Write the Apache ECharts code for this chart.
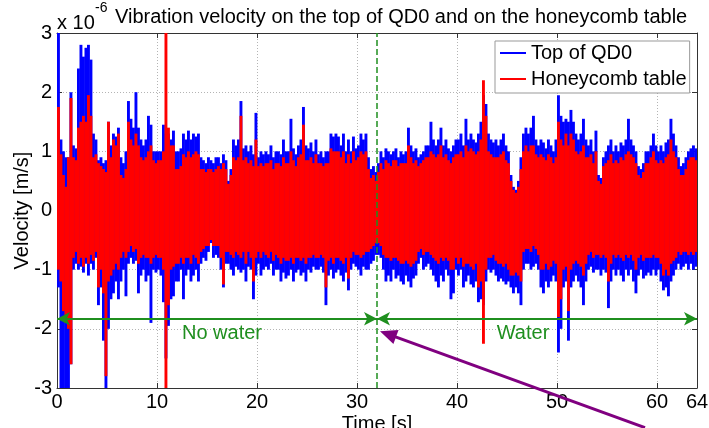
<!DOCTYPE html>
<html><head><meta charset="utf-8">
<script src="https://cdn.jsdelivr.net/npm/echarts@6/dist/echarts.min.js"></script>
<style>html,body{margin:0;padding:0;background:#fff}#c{width:709px;height:428px}</style>
</head><body><div id="c"></div>
<script>
// sample spacing (s) of the envelope readings; each sample gives a local max and min
const STEP = 0.25;
const X_TICKS = [0, 10, 20, 30, 40, 50, 60, 64];
const Y_TICKS = [-3, -2, -1, 0, 1, 2, 3];
const SERIES_NAMES = ['Top of QD0', 'Honeycomb table'];

// Top of QD0 (blue), x1e-6 m/s
const blueMax = [
3.2,1.2,1.0,0.9, 0.9,2.0,1.1,1.05, 2.4,2.8,2.6,2.75, 2.8,2.55,1.3,1.2,
0.85,0.9,0.8,0.85, 1.5,1.1,1.3,1.25, 1.4,0.9,0.8,1.0, 1.85,1.55,1.4,2.0,
1.4,1.2,1.1,1.2, 1.6,1.45,1.0,1.0, 1.0,1.0,1.45,1.3, 1.3,1.2,1.35,1.0,
1.0,1.05,1.3,1.2, 1.35,1.2,1.3,1.25, 1.3,0.9,0.85,0.8, 0.9,0.85,0.8,0.9,
0.9,0.8,0.95,0.85, 0.5,0.7,1.2,1.1, 1.2,1.85,1.05,1.1, 1.0,1.1,0.95,1.65,
0.9,1.0,0.95,1.0, 0.95,1.1,0.9,1.0, 1.0,0.95,1.2,1.0, 1.0,1.55,1.05,0.95,
1.1,1.2,1.75,1.1, 1.05,1.15,1.0,1.2, 0.95,1.0,0.9,1.0, 1.0,1.3,1.25,1.3,
1.25,1.1,1.3,1.0, 1.2,1.0,1.25,1.05, 1.1,1.3,1.2,1.3, 0.9,0.7,0.75,0.65,
0.8,1.0,0.9,1.05, 1.0,0.95,1.0,1.05, 0.9,1.0,0.95,1.0, 1.4,1.1,1.0,1.05,
0.9,0.95,1.0,1.1, 1.1,1.5,1.2,1.1, 1.2,1.4,1.1,1.2, 1.05,1.0,1.1,1.2,
1.2,1.3,1.1,1.55, 1.2,1.3,1.2,1.15, 1.3,1.5,1.95,1.8, 1.3,1.2,1.15,1.2,
1.1,1.2,1.3,1.1, 1.0,0.6,0.4,0.35, 0.5,0.9,1.3,1.4, 1.3,1.4,1.6,1.2,
1.1,1.2,1.15,1.05, 1.2,1.1,1.0,1.2, 1.95,1.6,1.5,1.55, 1.5,1.7,1.5,1.3,
1.2,1.3,1.55,1.2, 1.1,1.2,1.0,1.35, 0.6,0.55,0.9,1.0, 1.1,1.2,1.0,1.1,
1.0,1.15,1.1,1.2, 1.55,1.2,1.1,1.0, 0.75,0.7,0.8,1.0, 1.0,1.1,1.3,1.1,
1.0,1.1,1.0,1.15, 1.2,1.55,1.3,1.1, 0.9,0.75,0.8,0.9, 1.0,1.05,1.1,1.05
];
const blueMin = [
-1.3,-3.3,-3.3,-3.2, -3.3,-2.6,-1.0,-0.9, -1.0,-0.95,-1.05,-0.9, -1.1,-0.9,-1.0,-0.8,
-1.6,-1.3,-2.2,-3.3, -2.0,-1.5,-1.4,-1.2, -1.5,-1.2,-1.0,-1.45, -0.9,-0.8,-0.9,-0.85,
-1.4,-1.1,-1.0,-1.2, -1.1,-1.9,-1.0,-1.05, -1.0,-1.1,-1.55,-2.5, -1.95,-1.5,-1.45,-1.2,
-1.2,-1.0,-1.5,-1.1, -1.0,-1.2,-1.1,-1.0, -1.2,-0.9,-0.8,-0.85, -0.7,-0.55,-0.8,-0.75,
-0.8,-1.0,-1.3,-0.9, -0.9,-1.0,-1.1,-0.95, -1.0,-1.05,-1.0,-1.2, -0.95,-1.0,-1.5,-1.1,
-0.9,-1.1,-1.0,-0.95, -1.0,-0.9,-1.1,-1.0, -1.0,-1.2,-1.05,-1.15, -1.1,-1.0,-1.2,-1.05,
-1.0,-1.1,-1.05,-1.2, -1.0,-1.05,-0.95,-1.0, -1.0,-0.95,-1.05,-1.6, -1.1,-1.0,-1.15,-1.05,
-1.0,-1.1,-1.2,-1.05, -1.35,-1.0,-0.9,-0.95, -1.0,-1.1,-0.95,-1.0, -1.0,-0.9,-0.85,-0.75,
-0.75,-0.8,-1.0,-1.2, -1.1,-1.2,-1.0,-1.15, -1.1,-1.2,-1.25,-1.1, -1.2,-1.3,-1.15,-1.1,
-0.9,-0.8,-1.0,-0.95, -0.9,-1.0,-1.1,-1.2, -1.3,-1.1,-1.2,-1.0, -1.1,-1.5,-1.4,-1.0,
-1.1,-1.0,-1.3,-1.2, -1.1,-1.25,-1.3,-1.2, -1.55,-1.5,-1.6,-1.2, -1.0,-1.05,-1.0,-1.1,
-1.2,-1.15,-1.2,-1.25, -1.2,-1.3,-1.4,-1.3, -1.4,-1.6,-1.0,-0.9, -0.9,-1.0,-0.95,-0.9,
-1.0,-1.3,-1.4,-1.2, -1.3,-1.2,-1.1,-1.2, -2.4,-2.0,-1.3,-1.2, -2.2,-1.3,-1.2,-1.1,
-1.2,-1.3,-1.6,-1.2, -1.0,-0.95,-1.05,-1.0, -1.0,-1.1,-1.0,-1.05, -1.65,-1.2,-1.0,-1.1,
-1.0,-1.1,-1.2,-1.0, -1.1,-1.0,-1.2,-1.4, -1.1,-1.0,-1.15,-1.1, -1.05,-1.1,-1.0,-1.1,
-1.0,-1.2,-1.35,-1.3, -1.45,-1.2,-1.1,-1.0, -0.9,-1.0,-0.95,-0.9, -1.0,-0.9,-1.0,-0.95
];
// Honeycomb table (red), x1e-6 m/s
const redMax = [
1.75,0.95,0.6,0.4, 0.9,1.9,0.9,0.85, 1.4,1.5,1.6,1.5, 1.95,1.6,0.9,0.95,
0.8,0.75,0.7,0.65, 1.5,0.9,1.2,1.1, 1.3,0.6,0.55,0.7, 1.5,1.2,1.1,1.3,
1.1,0.9,0.85,0.9, 1.0,1.1,0.85,0.8, 0.85,0.85,1.0,3.3, 1.4,1.1,1.1,0.7,
0.7,0.75,0.95,0.9, 1.0,0.9,0.95,1.0, 0.95,0.7,0.7,0.65, 0.7,0.7,0.65,0.7,
0.75,0.7,0.8,0.7, 0.45,0.6,0.9,0.85, 0.9,1.6,0.85,0.9, 0.8,0.85,0.75,1.2,
0.75,0.8,0.75,0.8, 0.8,0.85,0.7,0.8, 0.8,0.75,0.9,0.8, 0.8,1.0,0.85,0.75,
0.9,0.95,1.45,0.85, 0.85,0.9,0.8,0.95, 0.8,0.8,0.75,0.8, 0.8,1.05,1.0,1.0,
1.0,0.9,1.0,0.8, 0.95,0.8,1.0,0.85, 0.9,1.0,0.95,1.0, 0.7,0.55,0.6,0.5,
0.65,0.8,0.7,0.85, 0.8,0.75,0.85,0.85, 0.75,0.8,0.8,0.8, 1.1,0.9,0.8,0.85,
0.75,0.8,0.85,0.9, 0.9,1.0,0.95,0.9, 0.95,1.1,0.9,0.95, 0.85,0.8,0.9,0.95,
0.95,1.0,0.9,1.1, 1.0,1.05,1.0,0.95, 1.0,1.2,2.2,1.6, 1.0,0.95,0.9,0.9,
0.9,0.95,1.0,0.85, 0.8,0.5,0.35,0.3, 0.4,0.7,1.0,1.1, 1.0,1.1,1.1,0.95,
0.9,0.95,0.9,0.85, 0.95,0.9,0.8,0.9, 1.5,1.2,1.1,1.3, 1.1,1.3,1.2,1.0,
0.95,1.0,1.1,0.9, 0.9,0.95,0.8,1.0, 0.5,0.45,0.75,0.8, 0.85,0.95,0.8,0.85,
0.8,0.9,0.85,0.95, 1.0,0.95,0.9,0.8, 0.6,0.55,0.65,0.8, 0.8,0.9,1.0,0.85,
0.8,0.85,0.8,0.9, 0.95,1.2,1.0,0.9, 0.7,0.6,0.6,0.7, 0.85,0.9,0.9,0.85
];
const redMin = [
-1.0,-1.2,-1.7,-1.9, -2.0,-2.6,-0.8,-0.7, -0.9,-0.8,-0.95,-0.8, -0.9,-0.75,-0.85,-0.7,
-1.3,-1.0,-1.4,-2.8, -1.2,-1.1,-1.0,-0.9, -1.0,-0.8,-0.7,-0.8, -0.7,-0.6,-0.7,-0.65,
-0.9,-0.8,-0.75,-0.8, -0.8,-0.9,-0.8,-0.75, -0.8,-0.8,-1.0,-3.3, -1.6,-1.0,-0.95,-0.9,
-0.9,-0.8,-0.9,-0.8, -0.8,-0.9,-0.75,-0.8, -0.9,-0.7,-0.65,-0.6, -0.6,-0.5,-0.6,-0.6,
-0.6,-0.8,-1.25,-0.7, -0.7,-0.75,-0.8,-0.7, -0.75,-0.8,-0.7,-0.9, -0.7,-0.8,-1.2,-0.8,
-0.7,-0.8,-0.7,-0.75, -0.8,-0.7,-0.85,-0.75, -0.8,-0.9,-0.8,-0.85, -0.85,-0.8,-0.9,-0.8,
-0.8,-0.85,-0.8,-0.9, -0.8,-0.8,-0.75,-0.8, -0.8,-0.75,-0.8,-1.3, -0.85,-0.8,-0.9,-0.8,
-0.8,-0.85,-0.9,-0.8, -1.15,-0.8,-0.7,-0.75, -0.75,-0.8,-0.75,-0.7, -0.7,-0.65,-0.6,-0.55,
-0.55,-0.6,-0.75,-0.8, -0.8,-0.85,-0.8,-0.8, -0.85,-0.9,-0.9,-0.85, -0.9,-0.95,-0.9,-0.85,
-0.7,-0.65,-0.75,-0.7, -0.7,-0.75,-0.8,-0.85, -0.9,-0.8,-0.85,-0.8, -0.85,-1.0,-1.0,-0.8,
-0.9,-0.8,-0.95,-0.9, -0.9,-0.95,-1.0,-0.9, -1.3,-1.2,-2.25,-1.0, -0.8,-0.8,-0.75,-0.85,
-0.9,-0.9,-0.95,-0.9, -1.0,-1.1,-1.1,-1.05, -1.1,-1.2,-0.7,-0.65, -0.65,-0.7,-0.6,-0.65,
-0.75,-1.0,-1.0,-0.9, -1.0,-0.95,-0.85,-0.9, -1.8,-1.5,-1.0,-0.95, -1.7,-1.0,-0.9,-0.85,
-0.9,-0.95,-1.1,-0.9, -0.75,-0.7,-0.8,-0.75, -0.75,-0.8,-0.75,-0.8, -1.2,-0.9,-0.75,-0.8,
-0.75,-0.8,-0.85,-0.75, -0.8,-0.75,-0.85,-1.0, -0.8,-0.75,-0.85,-0.8, -0.8,-0.8,-0.75,-0.8,
-0.8,-0.9,-1.1,-1.0, -1.1,-0.9,-0.85,-0.8, -0.7,-0.75,-0.7,-0.7, -0.75,-0.7,-0.75,-0.7
];

// annotations
const SWITCH_TIME = 32;
const REGIONS = [
  { label: 'No water', from: 0, to: 32, labelAt: [16.5, -2.08] },
  { label: 'Water', from: 32, to: 64, labelAt: [46.6, -2.08] }
];
const ARROW_LEVEL = -1.83;
const POINTER = { tip: [32.3, -2.04], tail: [58.8, -3.67] };

const FONT = 'Liberation Sans, Arial, Helvetica, sans-serif';
const GREEN = '#1f8f1f';
const BLUE = '#0000ff', RED = '#ff0000';

function bands(hi, lo) { return hi.map((h, i) => [i * STEP, h, lo[i]]); }

function makeRender(color) {
  return function (params, api) {
    const t = api.value(0);
    const top = api.coord([t, api.value(1)]);
    const bot = api.coord([t, api.value(2)]);
    const xr = api.coord([t + STEP, 0])[0];
    const cs = params.coordSys;
    const rect = echarts.graphic.clipRectByRect(
      { x: top[0], y: top[1], width: xr - top[0] + 0.4, height: bot[1] - top[1] },
      { x: cs.x, y: cs.y, width: cs.width, height: cs.height });
    return rect ? { type: 'rect', shape: rect, style: { fill: color } } : null;
  };
}

const chart = echarts.init(document.getElementById('c'), null, { renderer: 'canvas' });

const arrowLines = REGIONS.map(r => [
  { coord: [r.from, ARROW_LEVEL], symbol: 'arrow', symbolSize: [10, 13] },
  { coord: [r.to, ARROW_LEVEL], symbol: 'arrow', symbolSize: [10, 13] }
]);

const axisCommon = {
  type: 'value',
  axisLine: { show: true, onZero: false, lineStyle: { color: '#333', width: 1 } },
  axisTick: { show: true, inside: true, length: 5, lineStyle: { color: '#333' } },
  splitLine: { show: true, lineStyle: { color: '#b4b4b4', type: [1, 2], width: 1 } },
  axisLabel: { show: true, color: '#000', fontSize: 20, fontFamily: FONT }
};

chart.setOption({
  animation: false,
  backgroundColor: '#fff',
  textStyle: { fontFamily: FONT },
  grid: { left: 57, right: 12, top: 33, bottom: 40, containLabel: false, outerBoundsMode: 'none' },
  legend: {
    data: SERIES_NAMES.map(n => ({ name: n, icon: 'rect' })),
    orient: 'vertical', left: 495, top: 41,
    padding: [2, 3, 4, 5], itemGap: 6, itemWidth: 26, itemHeight: 2,
    backgroundColor: '#fff', borderColor: '#999', borderWidth: 1,
    textStyle: { fontSize: 20, color: '#000', fontFamily: FONT, lineHeight: 20 },
    selectedMode: false
  },
  xAxis: [
    Object.assign({}, axisCommon, {
      min: X_TICKS[0], max: X_TICKS[X_TICKS.length - 1], interval: 10,
      position: 'bottom',
      axisLabel: Object.assign({}, axisCommon.axisLabel, { margin: 4 }),
      name: 'Time [s]', nameLocation: 'middle', nameGap: 26, nameMoveOverlap: false,
      nameTextStyle: { fontSize: 20, color: '#000', fontFamily: FONT }
    }),
    Object.assign({}, axisCommon, {
      min: X_TICKS[0], max: X_TICKS[X_TICKS.length - 1], interval: 10,
      position: 'top', axisLabel: { show: false }, splitLine: { show: false }
    })
  ],
  yAxis: [
    Object.assign({}, axisCommon, {
      min: Y_TICKS[0], max: Y_TICKS[Y_TICKS.length - 1], interval: 1,
      position: 'left',
      axisLabel: Object.assign({}, axisCommon.axisLabel, { margin: 5 }),
      name: 'Velocity [m/s]', nameLocation: 'middle', nameGap: 25, nameMoveOverlap: false,
      nameTextStyle: { fontSize: 20, color: '#000', fontFamily: FONT }
    }),
    Object.assign({}, axisCommon, {
      min: Y_TICKS[0], max: Y_TICKS[Y_TICKS.length - 1], interval: 1,
      position: 'right', axisLabel: { show: false }, splitLine: { show: false }
    })
  ],
  series: [
    {
      name: SERIES_NAMES[0], type: 'custom', data: bands(blueMax, blueMin),
      encode: { x: 0, y: [1, 2] }, renderItem: makeRender(BLUE),
      itemStyle: { color: BLUE }, z: 2, silent: true
    },
    {
      name: SERIES_NAMES[1], type: 'custom', data: bands(redMax, redMin),
      encode: { x: 0, y: [1, 2] }, renderItem: makeRender(RED),
      itemStyle: { color: RED }, z: 3, silent: true
    },
    {
      name: 'annotations', type: 'line', data: [], z: 5, silent: true,
      markLine: {
        silent: true, animation: false, symbol: 'none',
        label: { show: false },
        lineStyle: { color: GREEN, width: 2, type: 'solid' },
        data: [
          [
            { coord: [SWITCH_TIME, Y_TICKS[0]], symbol: 'none', lineStyle: { type: [6, 3], width: 1.5, color: GREEN } },
            { coord: [SWITCH_TIME, Y_TICKS[Y_TICKS.length - 1]], symbol: 'none' }
          ]
        ].concat(arrowLines)
      }
    }
  ]
});

function px(v) { return chart.convertToPixel({ xAxisIndex: 0, yAxisIndex: 0 }, v); }

const graphics = [];
graphics.push({ type: 'text', x: 57, y: 23, style: { text: 'x 10', font: '20px ' + FONT, fill: '#000', align: 'left', verticalAlign: 'middle' } });
graphics.push({ type: 'text', x: 95, y: 8, style: { text: '-6', font: '14px ' + FONT, fill: '#000', align: 'left', verticalAlign: 'middle' } });
graphics.push({ type: 'text', x: 115, y: 17, style: { text: 'Vibration velocity on the top of QD0 and on the honeycomb table', font: '20px ' + FONT, fill: '#000', align: 'left', verticalAlign: 'middle' } });

REGIONS.forEach(r => {
  const p = px(r.labelAt);
  graphics.push({ type: 'text', x: p[0], y: p[1], z: 10, style: { text: r.label, font: '20px ' + FONT, fill: GREEN, align: 'center', verticalAlign: 'middle' } });
});

const tip = px(POINTER.tip), tail = px(POINTER.tail);
const dx = tip[0] - tail[0], dy = tip[1] - tail[1];
const len = Math.hypot(dx, dy), ux = dx / len, uy = dy / len;
const HL = 17, HW = 7.5;
const bx = tip[0] - ux * HL, by = tip[1] - uy * HL;
graphics.push({ type: 'line', z: 10, shape: { x1: tail[0], y1: tail[1], x2: bx + ux * 2, y2: by + uy * 2 }, style: { stroke: '#800080', lineWidth: 3 } });
graphics.push({ type: 'polygon', z: 10, shape: { points: [tip, [bx - uy * HW, by + ux * HW], [bx + uy * HW, by - ux * HW]] }, style: { fill: '#800080' } });

chart.setOption({ graphic: graphics });
</script>
</body></html>
